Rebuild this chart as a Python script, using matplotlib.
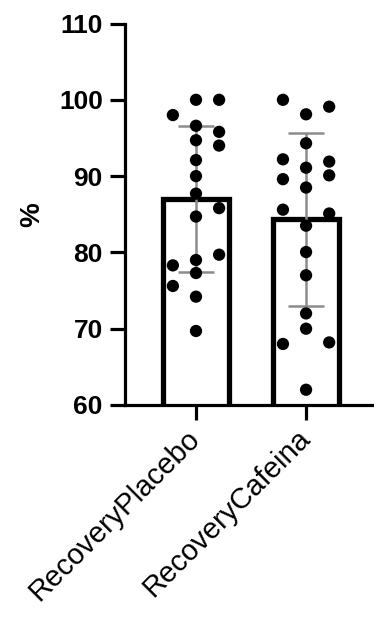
"""Recovery placebo vs cafeina: bar + SD + individual points"""

import matplotlib

matplotlib.use("Agg")
import matplotlib.pyplot as plt
import numpy as np

plt.rcParams["font.family"] = ["Liberation Sans", "DejaVu Sans"]

# Datos
categories = ["RecoveryPlacebo", "RecoveryCafeina"]

placebo_vals = [100, 100, 98, 96.6, 95.8, 94.7, 94.0, 92.1, 90.0, 87.7,
                85.8, 84.7, 79.7, 79.0, 78.3, 77.3, 75.6, 74.2, 69.7]
placebo_cols = [0, 1, -1, 0, 1, 0, 1, 0, 0, 0,
                1, 0, 1, 0, -1, 0, -1, 0, 0]

cafeina_vals = [100, 99.1, 98.1, 94.3, 92.2, 91.9, 91.1, 90.1, 89.6, 88.5,
                85.6, 85.1, 83.5, 80.05, 77.0, 72.0, 70.0, 68.0, 68.2, 62.0]
cafeina_cols = [-1, 1, 0, 0, -1, 1, 0, 1, -1, 0,
                -1, 1, 0, 0, 0, 0, 0, -1, 1, 0]

y_ticks = [60, 70, 80, 90, 100, 110]

groups = [(placebo_vals, placebo_cols), (cafeina_vals, cafeina_cols)]

fig = plt.figure(figsize=(3.74, 6.17), dpi=100)
ax = fig.add_axes([0.3342, 0.3436, 0.674, 0.6183])

x = np.arange(len(categories))
means = [np.mean(v) for v, _ in groups]
sds = [np.std(v, ddof=1) for v, _ in groups]

# Barras
ax.bar(x, means, width=0.595, color="white", edgecolor="black",
       linewidth=3.8, zorder=2)

# Barras de error (SD)
ax.errorbar(x, means, yerr=sds, fmt="none", ecolor="#8c8c8c",
            elinewidth=1.8, capsize=13, capthick=1.8, zorder=3)

# Puntos individuales
spread = 0.21
for i, (vals, cols) in enumerate(groups):
    xs = i + spread * np.array(cols)
    ax.scatter(xs, vals, s=78, color="black", edgecolors="none", zorder=4,
               clip_on=False)

ax.set_xlim(-0.645, 1.645)
ax.set_ylim(60, 110)
ax.set_yticks(y_ticks)
ax.set_xticks(x)
ax.set_xticklabels(categories, rotation=45, ha="right", va="center",
                   rotation_mode="anchor", fontsize=21)
ax.set_ylabel("%", fontsize=20, fontweight="bold", labelpad=10)

for lbl in ax.get_yticklabels():
    lbl.set_fontsize(19)
    lbl.set_fontweight("bold")

ax.spines["top"].set_visible(False)
ax.spines["right"].set_visible(False)
ax.spines["left"].set_linewidth(2.3)
ax.spines["bottom"].set_linewidth(2.3)
ax.tick_params(axis="both", length=11, width=2.3, color="black", pad=5)
ax.tick_params(axis="x", pad=10)

fig.savefig("out.png", dpi=100)
plt.close(fig)
